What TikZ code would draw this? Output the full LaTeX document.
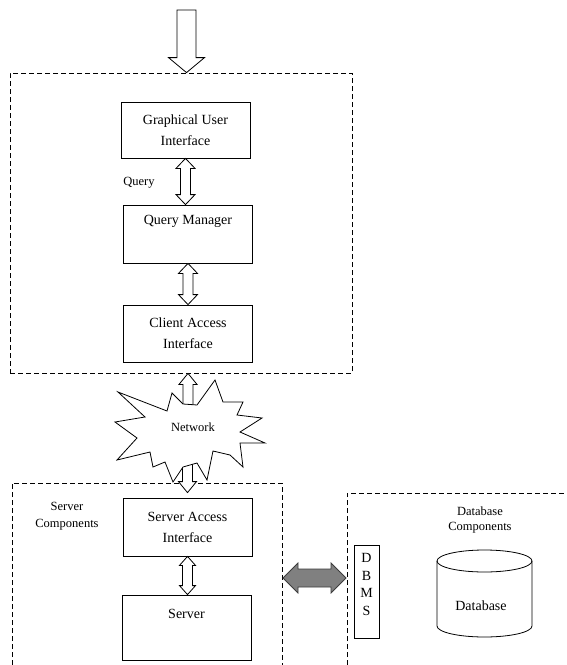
\documentclass[tikz,border=0pt]{standalone}
\usepackage{fontspec}
\setmainfont{Liberation Serif}
\usetikzlibrary{calc}
\newcommand\diamainf{\fontsize{14}{21}\selectfont}
\newcommand\diasmallf{\fontsize{12.5}{17}\selectfont}
% hollow vertical double arrow: #1 top tip, #2 bottom tip, #3 half shaft, #4 half head, #5 head length
\newcommand\hdbl[5]{%
  \draw[holw] (#1) -- ($(#1)+(#4,#5)$) -- ($(#1)+(#3,#5)$) -- ($(#2)+(#3,-#5)$) -- ($(#2)+(#4,-#5)$) -- (#2)
    -- ($(#2)+(-#4,-#5)$) -- ($(#2)+(-#3,-#5)$) -- ($(#1)+(-#3,#5)$) -- ($(#1)+(-#4,#5)$) -- cycle;}
\definecolor{arrgray}{RGB}{128,128,128}
\definecolor{arrdark}{RGB}{60,60,60}
\begin{document}
\begin{tikzpicture}[x=1pt,y=-1pt,line width=0.8pt,
  box/.style={draw, fill=white, minimum width=129pt, align=center, inner sep=0pt, font=\diamainf},
  dashbox/.style={draw, dash pattern=on 5pt off 3pt},
  lbl/.style={align=center, inner sep=0pt, font=\diasmallf},
  holw/.style={draw, fill=white, line join=miter}]
\useasboundingbox (0,0) rectangle (566,665);

% client side
\node[dashbox, minimum width=342pt, minimum height=300pt, inner sep=0pt] (client) at (181,223) {};
\node[box, minimum height=56pt] (gui) at (185.5,130) {Graphical User\\Interface};
\node[box, minimum height=58pt] (qm) at (188,234) {Query Manager\\\strut};
\node[box, minimum height=57pt] (cai) at (188,333.5) {Client Access\\Interface};
\node[lbl] (qlbl) at (139,183) {Query};

% input arrow
\coordinate (inTop) at (186.5,10);
\coordinate (inTip) at (client.north -| inTop);
\draw[holw] ($(inTop)+(-9.5,0)$) -- ($(inTip)+(-9.5,-15)$) -- ($(inTip)+(-18,-15)$) -- (inTip)
  -- ($(inTip)+(18,-15)$) -- ($(inTip)+(9.5,-15)$) -- ($(inTop)+(9.5,0)$) -- cycle;

% arrows between client boxes
\coordinate (a1t) at (gui.south);
\coordinate (a1b) at (gui.south |- qm.north);
\hdbl{a1t}{a1b}{5}{9.5}{10}
\coordinate (a2t) at (qm.south);
\coordinate (a2b) at (qm.south |- cai.north);
\hdbl{a2t}{a2b}{5}{9.5}{10}

% server side
\draw[dashbox] (12,665) -- (12,483) -- (282,483) -- (282,665);
\node[box, minimum height=58pt] (sai) at (187.5,527) {Server Access\\Interface};
\node[box, minimum height=65pt] (srv) at (186.5,627.5) {Server\\\strut};
\node[lbl] (slbl) at (67,516) {Server\\Components};
\coordinate (a3t) at (sai.south);
\coordinate (a3b) at (sai.south |- srv.north);
\hdbl{a3t}{a3b}{5}{8}{9}

% network
\coordinate (n1t) at (client.south -| cai);
\coordinate (n1b) at ($(sai.north)+(0,-5)$);
\hdbl{n1t}{n1b}{5}{9}{11}
\draw[fill=white, line join=miter] (118,392) -- (167,411) -- (172,393) -- (183,404) -- (197,405) -- (215,380)
  -- (223,402) -- (243,402) -- (237,415) -- (262,418) -- (240,432) -- (265,443) -- (240,443)
  -- (243,467) -- (230,455) -- (213,451) -- (207,480) -- (197,463) -- (183,467) -- (173,482)
  -- (165,462) -- (153,467) -- (150,452) -- (117,460) -- (137,438) -- (115,422) -- (145,417) -- cycle;
\node[lbl] (net) at (193,427) {Network};

% database side
\draw[dashbox] (347,665) -- (347,493) -- (566,493);
\node[lbl, font=\fontsize{12.5}{15.5}\selectfont] (dlbl) at (480,520) {Database\\Components};
\node[draw, minimum width=25pt, minimum height=93pt, inner sep=0pt] (dbms) at (366.5,591.5) {};
\node[align=center, inner sep=0pt, font=\fontsize{14}{17.7}\selectfont] (dbmsT) at (366.5,584.5) {D\\B\\M\\S};
\draw (437,561) -- (437,626) arc[start angle=180, end angle=0, x radius=47.5, y radius=11] -- (532,561);
\draw (484.5,561) ellipse [x radius=47.5, y radius=11];
\node[inner sep=0pt, font=\diamainf] (dbT) at (481,606) {Database};

% gray link arrow
\coordinate (gl) at (283,578);
\coordinate (gr) at (346,578);
\draw[fill=arrgray, draw=arrdark, line join=miter] (gl) -- ($(gl)+(15,-15)$) -- ($(gl)+(15,-9)$) -- ($(gr)+(-15,-9)$)
  -- ($(gr)+(-15,-15)$) -- (gr) -- ($(gr)+(-15,15)$) -- ($(gr)+(-15,9)$) -- ($(gl)+(15,9)$) -- ($(gl)+(15,15)$) -- cycle;
\end{tikzpicture}
\end{document}
